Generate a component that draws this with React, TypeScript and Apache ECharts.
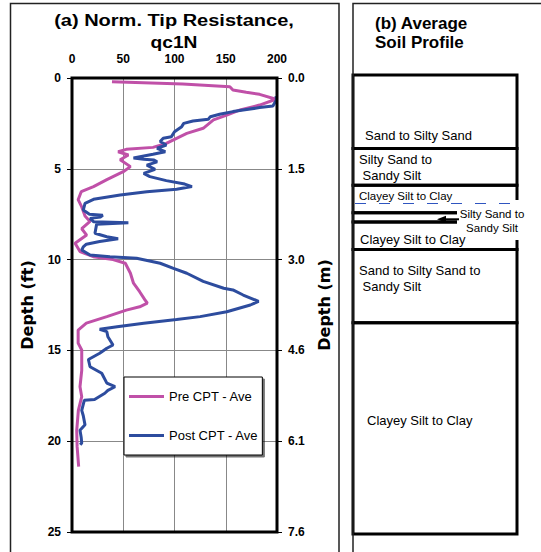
import React, { useEffect, useRef } from "react";
import * as echarts from "echarts";

// ---- data ----
const preCptDepth = [0.2, 0.33, 0.48, 0.66, 0.79, 0.9, 1.17, 1.49, 1.76, 2.04, 2.31, 2.77, 3.05, 3.32, 3.6, 3.82, 3.93, 4.06, 4.24, 4.5, 4.88, 5.16, 5.6, 5.98, 6.26, 6.7, 7.1, 7.6, 7.9, 8.3, 8.65, 9.1, 9.56, 9.84, 10.0, 10.2, 10.75, 11.3, 11.77, 12.2, 12.4, 12.6, 12.78, 13.14, 13.5, 13.88, 14.6, 14.98, 16.1, 17.0, 17.55, 18.3, 19.4, 20.3, 21.4];
const preCptValue = [39, 108, 154, 157, 170, 183, 199, 183, 164, 151, 138, 128, 112, 102, 92, 79, 53, 45, 55, 47, 57, 50, 34, 21, 9, 6, 9.5, 12.7, 17.6, 9.5, 14.3, 3, 7.8, 20.8, 40, 52, 57, 60, 66, 71, 73.5, 66, 53, 34, 14, 6, 6, 9.5, 9.5, 7.8, 9.5, 6.2, 4.6, 5, 6.5];

const postCptDepth = [1.0, 1.2, 1.54, 1.63, 1.76, 1.85, 2.0, 2.13, 2.27, 2.37, 2.5, 2.68, 2.96, 3.23, 3.32, 3.5, 3.69, 3.87, 4.06, 4.2, 4.4, 4.47, 4.52, 4.62, 4.8, 5.03, 5.25, 5.43, 5.65, 5.84, 5.98, 6.13, 6.26, 6.44, 6.68, 6.9, 7.27, 7.5, 7.56, 7.65, 7.73, 7.91, 7.97, 8.06, 8.55, 8.74, 8.85, 9.0, 9.15, 9.3, 9.47, 9.75, 9.84, 9.93, 10.2, 10.48, 10.75, 11.2, 11.58, 11.67, 11.95, 12.3, 12.5, 12.87, 13.14, 13.3, 13.5, 13.7, 13.84, 13.97, 14.25, 14.7, 14.88, 15.16, 15.5, 15.9, 16.26, 16.8, 17.0, 17.2, 17.36, 17.7, 17.75, 18.3, 18.6, 19.1, 19.4, 19.8, 20.1, 20.2];
const postCptValue = [199, 199.5, 196, 183, 167, 157, 144, 135, 133, 118, 109, 107, 100, 97, 89, 86, 92, 83, 91, 79, 60, 70, 80, 83, 73, 81, 70, 76, 92, 110, 117, 102, 73, 47, 21, 12.7, 11, 17, 30, 28, 17.6, 21, 55, 24, 22.4, 34, 45, 27, 14, 11, 9.5, 17.6, 37, 63, 86, 99, 112, 128, 148, 157, 167, 182, 174, 151, 125, 102, 70, 44, 27, 34, 35, 40, 34, 27, 16, 17.6, 29, 34, 42, 35, 32, 22, 12, 9.5, 11, 12.7, 7.8, 9, 9.5, 8];

const qTicks = [0, 50, 100, 150, 200];
const depthTicksFt = [0, 5, 10, 15, 20, 25];
const depthTicksM = ["0.0", "1.5", "3.0", "4.6", "6.1", "7.6"];

const layerTop = [0, 4, 6, 7.5, 8, 9.5, 13.5];
const layerBottom = [4, 6, 7.5, 8, 9.5, 13.5, 25];
const layerLabel = [
  "Sand to Silty Sand",
  "Silty Sand to\n Sandy Silt",
  "Clayey Silt to Clay",
  "Silty Sand to\nSandy Silt",
  "Clayey Silt to Clay",
  "Sand to Silty Sand to\n Sandy Silt",
  "Clayey Silt to Clay",
];
const waterTableDepth = 7.0;

// ---- layout/style (not data) ----
const labelDx = [12, 6, 6, 139, 7, 6, 14];
const labelDy = [60.5, 18.6, 11, 8.3, 18, 29.3, 98];
const labelSize = [13, 13, 11.5, 11.5, 13, 13, 13];
const PRE = "#C050A8";
const POST = "#2D4C9E";
const SANS = "Liberation Sans";

export default function App() {
  const ref = useRef<HTMLDivElement>(null);
  useEffect(() => {
    const chart = echarts.init(ref.current!, null, { renderer: "svg" });
    const prePairs = preCptDepth.map((d, i) => [preCptValue[i], d]);
    const postPairs = postCptDepth.map((d, i) => [postCptValue[i], d]);
    const layers = layerTop.map((t, i) => [t, layerBottom[i]]);
    const tickFont = { fontFamily: SANS, fontWeight: "bold" as const, fontSize: 12, color: "#000" };

    chart.setOption({
      animation: false,
      backgroundColor: "#fff",
      graphic: [
        { type: "rect", shape: { x: 10.5, y: 3.5, width: 328.5, height: 600 }, style: { fill: "none", stroke: "#222", lineWidth: 1.5 }, z: 100 },
        { type: "rect", shape: { x: 353, y: 3.5, width: 250, height: 600 }, style: { fill: "none", stroke: "#222", lineWidth: 1.5 }, z: 100 },
        { type: "text", x: 174, y: 21, scaleX: 1.25, style: { text: "(a) Norm. Tip Resistance,", fontFamily: SANS, fontWeight: "bold", fontSize: 16, fill: "#000", textAlign: "center", textVerticalAlign: "middle" } },
        { type: "text", x: 174, y: 43, scaleX: 1.2, style: { text: "qc1N", fontFamily: SANS, fontWeight: "bold", fontSize: 16, fill: "#000", textAlign: "center", textVerticalAlign: "middle" } },
        { type: "text", x: 375, y: 23, style: { text: "(b) Average", fontFamily: SANS, fontWeight: "bold", fontSize: 17, fill: "#000", textAlign: "left", textVerticalAlign: "middle" } },
        { type: "text", x: 375, y: 42, style: { text: "Soil Profile", fontFamily: SANS, fontWeight: "bold", fontSize: 17, fill: "#000", textAlign: "left", textVerticalAlign: "middle" } },
      ],
      grid: [
        { left: 72, top: 78, width: 205, height: 454 },
        { left: 353, top: 75, width: 164, height: 459 },
      ],
      xAxis: [
        {
          type: "value", gridIndex: 0, position: "top", min: 0, max: 200, interval: 50,
          axisLine: { show: false }, axisTick: { show: false },
          axisLabel: { ...tickFont, margin: 13 },
          splitLine: { lineStyle: { color: "#888", width: 1 } },
        },
        { type: "value", gridIndex: 1, min: 0, max: 1, show: false },
      ],
      yAxis: [
        {
          type: "value", gridIndex: 0, position: "left", min: 0, max: 25, interval: 5, inverse: true,
          axisLine: { show: false },
          axisTick: { show: true, length: 5, lineStyle: { color: "#000", width: 1 } },
          axisLabel: { ...tickFont, margin: 11 },
          splitLine: { lineStyle: { color: "#888", width: 1 } },
          name: "Depth (ft)", nameLocation: "middle", nameGap: 37, nameRotate: 90,
          nameTextStyle: { fontFamily: "DejaVu Sans", fontWeight: "bold", fontSize: 16, color: "#000" },
        },
        {
          type: "value", gridIndex: 0, position: "right", min: 0, max: 25, interval: 5, inverse: true,
          axisLine: { show: false },
          axisTick: { show: true, length: 5, lineStyle: { color: "#000", width: 1 } },
          axisLabel: { ...tickFont, margin: 11, formatter: (v: number) => depthTicksM[depthTicksFt.indexOf(v)] ?? "" },
          splitLine: { show: false },
          name: "Depth (m)", nameLocation: "middle", nameGap: 39, nameRotate: 90,
          nameTextStyle: { fontFamily: "DejaVu Sans", fontWeight: "bold", fontSize: 16, color: "#000" },
        },
        { type: "value", gridIndex: 1, min: 0, max: 25, inverse: true, show: false },
      ],
      legend: {
        data: ["Pre CPT - Ave", "Post CPT - Ave"],
        left: 124, top: 377, orient: "vertical", itemGap: 24, itemWidth: 35, itemHeight: 3, icon: "rect",
        padding: [12, 4, 12, 5], borderColor: "#000", borderWidth: 1, backgroundColor: "#fff",
        shadowColor: "rgba(0,0,0,0.55)", shadowOffsetX: 2, shadowOffsetY: 2, shadowBlur: 0,
        textStyle: { fontFamily: SANS, fontSize: 13, color: "#000", lineHeight: 15 },
      },
      series: [
        {
          name: "Pre CPT - Ave", type: "line", xAxisIndex: 0, yAxisIndex: 0, data: prePairs,
          showSymbol: false, symbol: "none", lineStyle: { color: PRE, width: 3 }, itemStyle: { color: PRE }, clip: true,
        },
        {
          name: "Post CPT - Ave", type: "line", xAxisIndex: 0, yAxisIndex: 0, data: postPairs,
          showSymbol: false, symbol: "none", lineStyle: { color: POST, width: 3 }, itemStyle: { color: POST }, clip: true,
        },
        {
          name: "frame", type: "custom", xAxisIndex: 0, yAxisIndex: 0, data: [[0, 0]], clip: false, z: 5, silent: true,
          renderItem: (params: any, api: any) => {
            const a = api.coord([0, 0]);
            const b = api.coord([200, 25]);
            return { type: "rect", shape: { x: a[0], y: a[1], width: b[0] - a[0], height: b[1] - a[1] }, style: { fill: "none", stroke: "#000", lineWidth: 3 } };
          },
        },
        {
          name: "profile", type: "custom", xAxisIndex: 1, yAxisIndex: 2, data: layers, clip: false, silent: true,
          renderItem: (params: any, api: any) => {
            const i = params.dataIndex;
            const p0 = api.coord([0, api.value(0)]);
            const p1 = api.coord([1, api.value(1)]);
            const left = p0[0];
            const top = p0[1];
            const children: any[] = [
              { type: "rect", z2: 0, shape: { x: p0[0], y: p0[1], width: p1[0] - p0[0], height: p1[1] - p0[1] }, style: { fill: "none", stroke: "#000", lineWidth: 3 } },
            ];
            const isSide = i === 3;
            if (isSide) {
              const cy = (p0[1] + p1[1]) / 2 + 2;
              children.push({ type: "rect", z2: 10, shape: { x: left + 104, y: top - 12.7, width: 72, height: 40 }, style: { fill: "#fff" } });
              children.push({ type: "line", z2: 11, shape: { x1: left + 91, y1: cy, x2: left + 106, y2: cy }, style: { stroke: "#000", lineWidth: 2 } });
              children.push({ type: "polygon", z2: 11, shape: { points: [[left + 84, cy], [left + 93, cy - 3.5], [left + 93, cy + 3.5]] }, style: { fill: "#000" } });
            }
            children.push({
              type: "text", z2: 12, x: left + labelDx[i], y: top + labelDy[i],
              style: {
                text: layerLabel[i], fontFamily: SANS, fontSize: labelSize[i], fill: "#000",
                textAlign: isSide ? "center" : "left", textVerticalAlign: "middle",
                lineHeight: isSide ? 14 : 16,
              },
            });
            return { type: "group", children };
          },
        },
        {
          name: "water", type: "custom", xAxisIndex: 1, yAxisIndex: 2, data: [[waterTableDepth]], clip: false, z: 10, silent: true,
          renderItem: (params: any, api: any) => {
            const a = api.coord([0, api.value(0)]);
            const b = api.coord([1, api.value(0)]);
            return { type: "line", shape: { x1: a[0] + 2, y1: a[1], x2: b[0], y2: b[1] }, style: { stroke: "#2F55C0", lineWidth: 1.2, lineDash: [11, 13] } };
          },
        },
      ],
    });
    return () => chart.dispose();
  }, []);
  return <div ref={ref} style={{ position: "absolute", left: 0, top: 0, width: 541, height: 552 }} />;
}
